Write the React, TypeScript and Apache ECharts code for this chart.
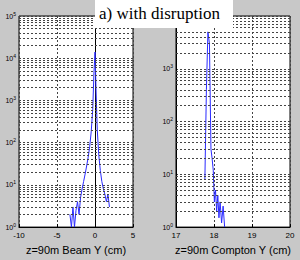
import React, { useEffect, useRef } from "react";
import * as echarts from "echarts";

const titleText = "a) with disruption";
const leftXName = "z=90m Beam Y (cm)";
const rightXName = "z=90m Compton Y (cm)";

const beamY = [-3.3, -3.1, -2.9, -2.7, -2.5, -2.3, -2.1, -1.9, -1.7, -1.5, -1.3, -1.1, -0.9, -0.7, -0.5, -0.3, -0.15, 0, 0.15, 0.3, 0.5, 0.7, 0.9, 1.1, 1.3, 1.5, 1.7, 1.9];
const beamCounts = [2, 1, 3, 1, 2.5, 4, 2, 5, 8, 12, 18, 28, 45, 80, 180, 600, 4000, 14000, 1500, 200, 50, 22, 12, 8, 6, 4, 6, 3];

const comptonY = [17.76, 17.8, 17.84, 17.88, 17.92, 17.95, 17.98, 18.01, 18.04, 18.07, 18.1, 18.13, 18.16, 18.2, 18.24, 18.28];
const comptonCounts = [8, 400, 5000, 3000, 30, 20, 12, 3, 5, 2, 4, 1.5, 3, 1.2, 2.5, 1];

const leftDecades = [0, 1, 2, 3, 4];
const rightDecades = [0, 1, 2, 3];
const minorMults = [2, 3, 4, 5, 6, 7, 8, 9];

const gridColor = "#444";
const lineColor = "#2a2aff";

function minorLines(decades: number[]) {
  const out: any[] = [];
  decades.forEach((d) => minorMults.forEach((m) => out.push({ yAxis: m * Math.pow(10, d) })));
  return out;
}

const yFormatter = (v: number) => `{b|10}{s|${Math.round(Math.log10(v))}}`;

export default function App() {
  const ref = useRef<HTMLDivElement>(null);
  useEffect(() => {
    if (!ref.current) return;
    const chart = echarts.init(ref.current, undefined, { renderer: "svg" });
    const axisText = { color: "#000", fontFamily: "Liberation Sans", fontSize: 8 };
    const splitLine = { show: true, lineStyle: { color: gridColor, type: [2, 2] as any, width: 1 } };
    const yAxisCommon = (max: number, split: number, showMax: boolean) => ({
      type: "log" as const,
      logBase: 10,
      min: 1,
      max,
      splitNumber: split,
      axisLine: { show: true, lineStyle: { color: "#000" } },
      axisTick: { show: false },
      splitLine,
      axisLabel: {
        formatter: yFormatter,
        margin: 3,
        showMaxLabel: showMax,
        rich: {
          b: { fontSize: 7, fontFamily: "Liberation Sans", color: "#000" },
          s: { fontSize: 5, fontFamily: "Liberation Sans", color: "#000", verticalAlign: "top", padding: [0, 0, 5, 0] },
        },
      },
    });
    const xAxisCommon = (min: number, max: number, interval: number, name: string) => ({
      type: "value" as const,
      min,
      max,
      interval,
      name,
      nameLocation: "middle" as const,
      nameGap: 15,
      nameTextStyle: { color: "#000", fontFamily: "Liberation Sans", fontSize: 11 },
      axisLine: { show: true, lineStyle: { color: "#000" } },
      axisTick: { show: true, inside: true, length: 3, lineStyle: { color: "#000" } },
      splitLine,
      axisLabel: { ...axisText, margin: 4 },
    });
    const markLineStyle = (decades: number[]) => ({
      silent: true,
      symbol: ["none", "none"],
      label: { show: false },
      lineStyle: { color: gridColor, type: [2, 2] as any, width: 1 },
      data: minorLines(decades),
    });
    chart.setOption({
      animation: false,
      backgroundColor: "#c8c8c8",
      grid: [
        { left: 19, right: 167, top: 16, bottom: 30, show: true, backgroundColor: "#fff", borderColor: "#000", borderWidth: 1 },
        { left: 176, right: 10, top: 16, bottom: 30, show: true, backgroundColor: "#fff", borderColor: "#000", borderWidth: 1 },
      ],
      xAxis: [
        { gridIndex: 0, ...xAxisCommon(-10, 5, 5, leftXName) },
        { gridIndex: 1, ...xAxisCommon(17, 20, 1, rightXName) },
      ],
      yAxis: [
        { gridIndex: 0, ...yAxisCommon(100000, 5, true) },
        { gridIndex: 1, ...yAxisCommon(10000, 4, false) },
      ],
      series: [
        {
          type: "line",
          xAxisIndex: 0,
          yAxisIndex: 0,
          data: beamY.map((x, i) => [x, beamCounts[i]]),
          showSymbol: false,
          lineStyle: { color: lineColor, width: 1 },
          markLine: markLineStyle(leftDecades),
        },
        {
          type: "line",
          xAxisIndex: 1,
          yAxisIndex: 1,
          data: comptonY.map((x, i) => [x, comptonCounts[i]]),
          showSymbol: false,
          lineStyle: { color: lineColor, width: 1 },
          markLine: markLineStyle(rightDecades),
        },
      ],
      graphic: [
        { type: "rect", left: 95, top: 0, shape: { width: 138, height: 28 }, style: { fill: "#fff" }, z: 100 },
        {
          type: "text",
          left: 99,
          top: 5,
          z: 101,
          style: { text: titleText, fill: "#000", fontFamily: "Liberation Serif", fontSize: 17 },
        },
      ],
    });
    return () => chart.dispose();
  }, []);
  return <div ref={ref} style={{ width: 300, height: 260, position: "absolute", left: 0, top: 0 }} />;
}
